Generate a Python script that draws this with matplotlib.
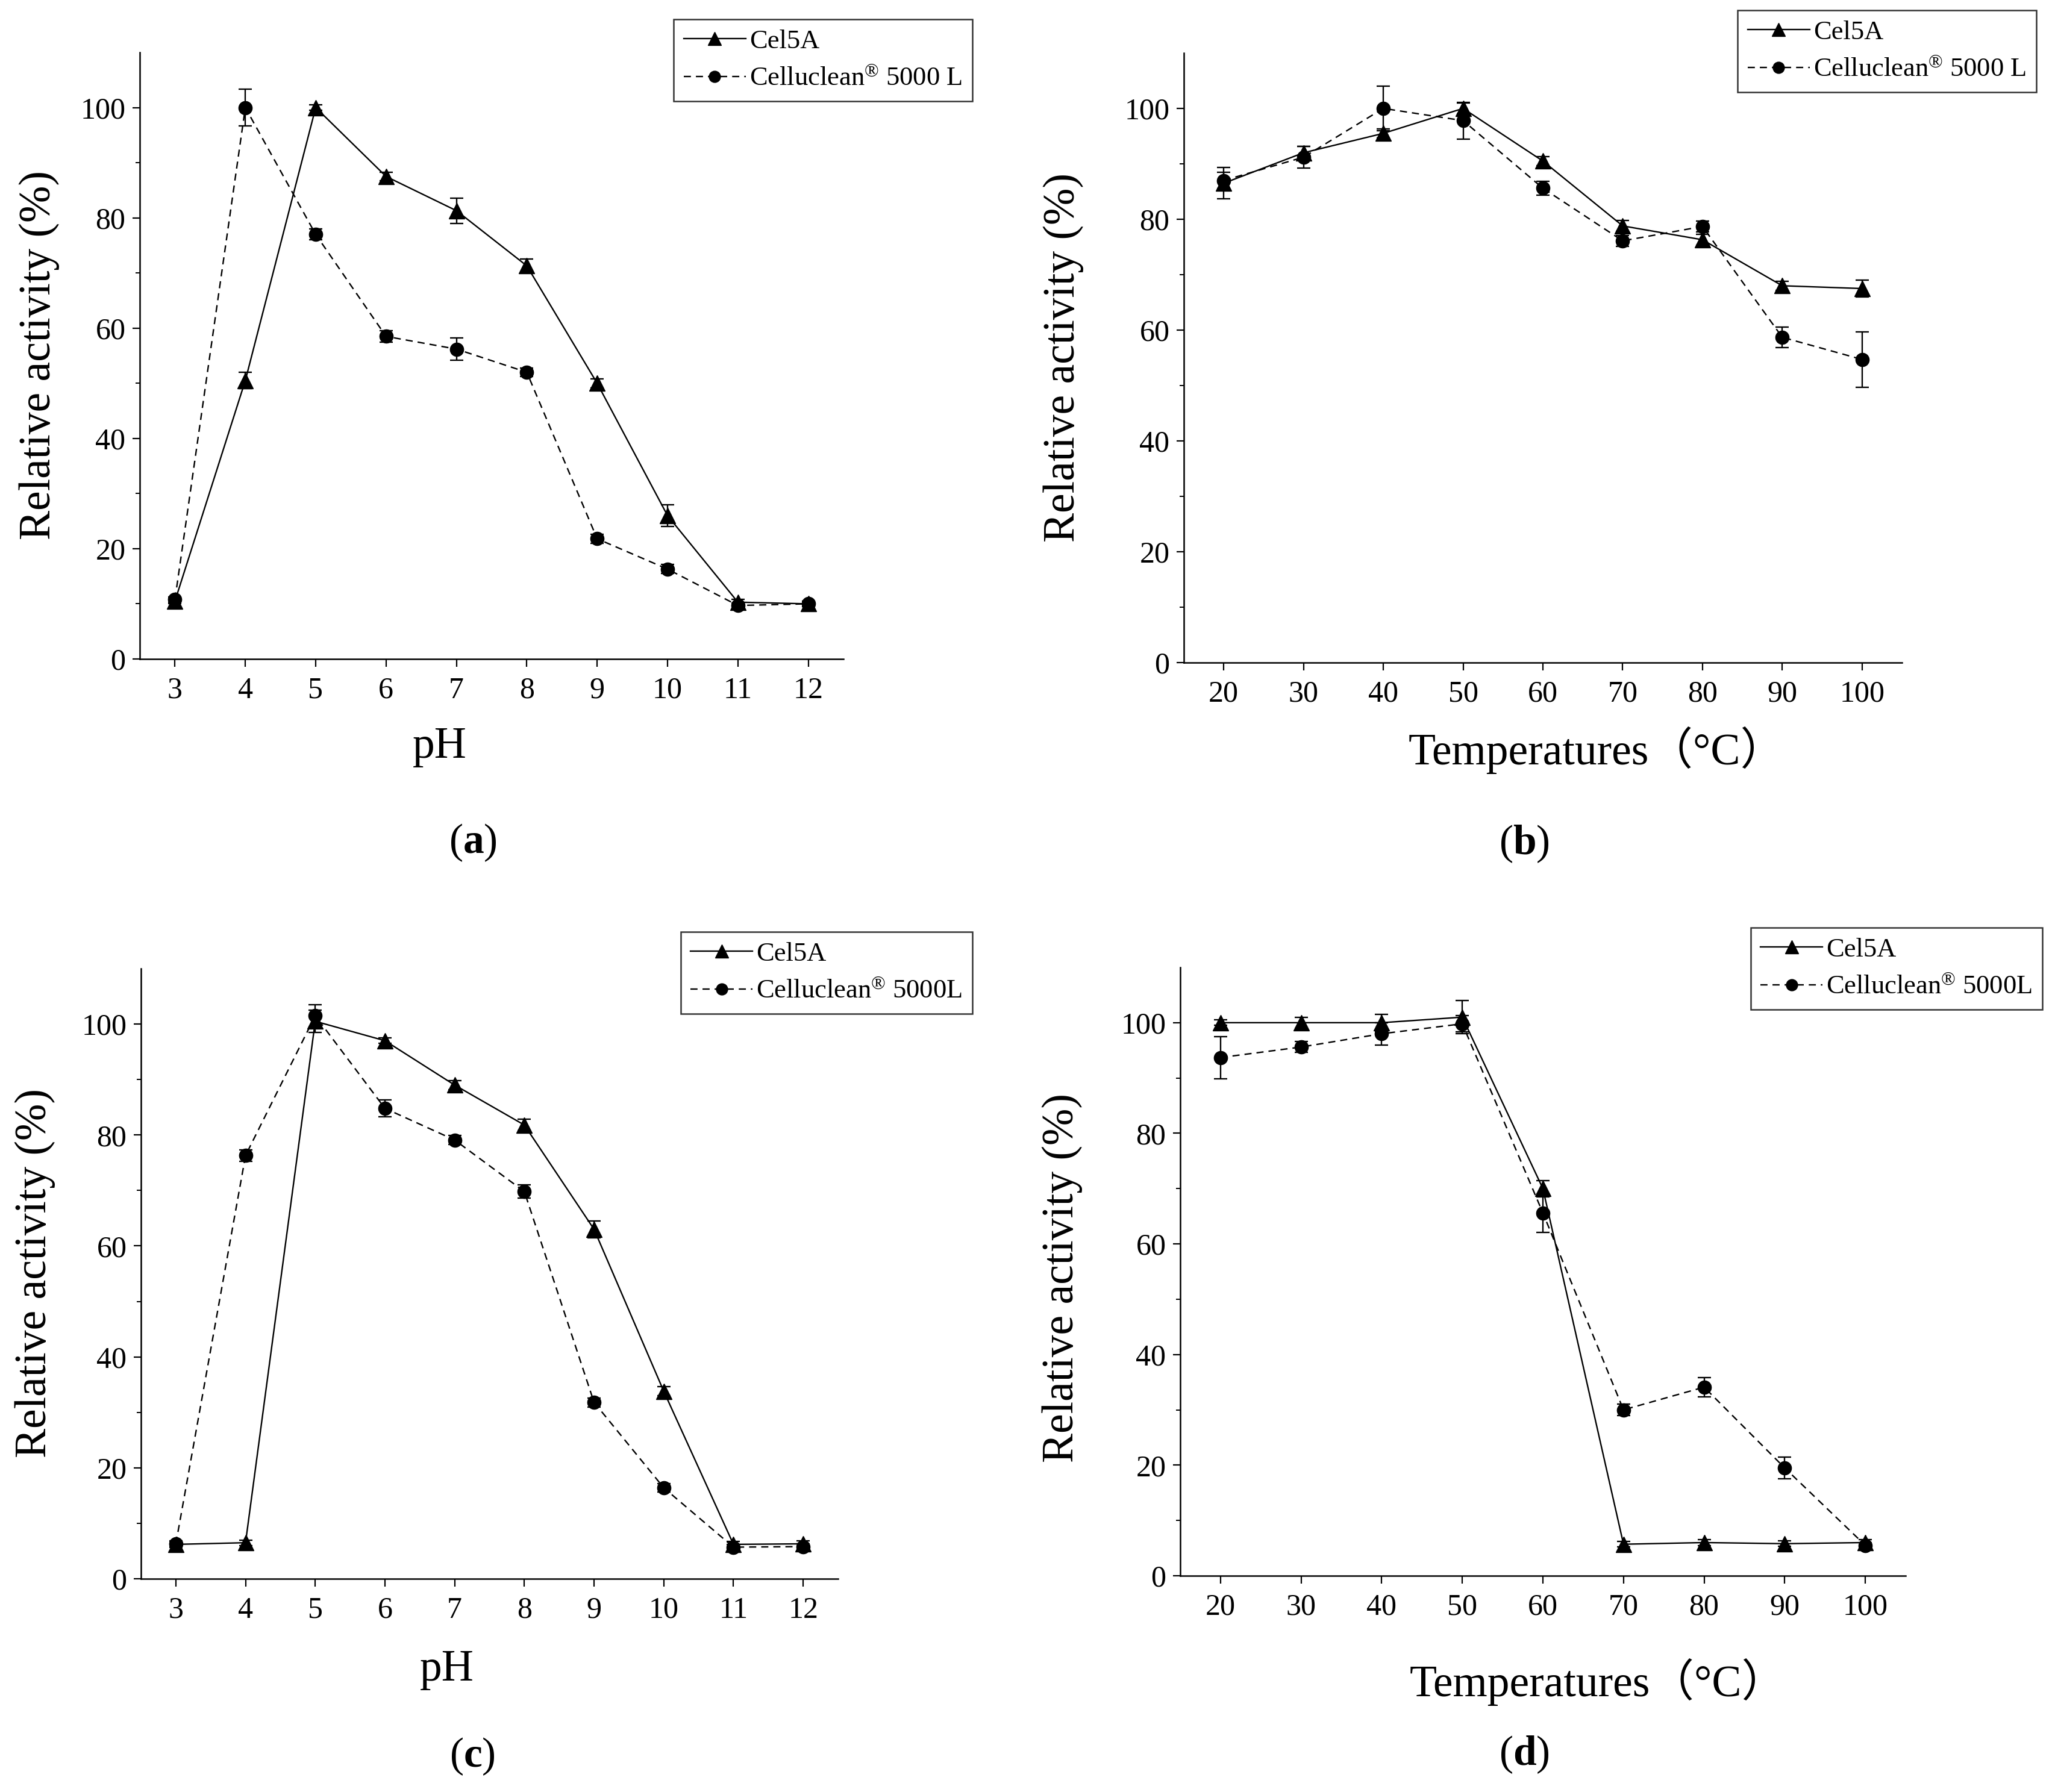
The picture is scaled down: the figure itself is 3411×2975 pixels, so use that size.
import matplotlib
matplotlib.use("Agg")
import matplotlib.pyplot as plt
import numpy as np

plt.rcParams['font.family'] = ['Liberation Serif', 'Noto Sans CJK SC', 'DejaVu Sans']
plt.rcParams['mathtext.fontset'] = 'custom'
plt.rcParams['mathtext.rm'] = 'Liberation Serif'
plt.rcParams['mathtext.it'] = 'Liberation Serif:italic'
plt.rcParams['mathtext.bf'] = 'Liberation Serif:bold'

# ---------------- data ----------------
ph = [3, 4, 5, 6, 7, 8, 9, 10, 11, 12]
temps = [20, 30, 40, 50, 60, 70, 80, 90, 100]

# (a) pH optimum
a_cel5a = [10.5, 50.5, 100.0, 87.5, 81.3, 71.3, 50.0, 26.0, 10.3, 10.0]
a_cel5a_err = [0.5, 1.5, 0.5, 0.8, 2.3, 1.2, 0.8, 2.0, 0.5, 0.5]
a_cellu = [10.8, 100.0, 77.0, 58.5, 56.2, 52.0, 21.8, 16.3, 9.7, 10.0]
a_cellu_err = [0.5, 3.3, 1.0, 1.0, 2.0, 0.8, 0.8, 0.8, 0.5, 0.5]

# (b) temperature optimum
b_cel5a = [86.5, 92.0, 95.5, 100.0, 90.5, 78.8, 76.3, 68.0, 67.5]
b_cel5a_err = [2.8, 1.2, 0.8, 1.0, 0.8, 1.0, 1.0, 0.8, 1.5]
b_cellu = [87.0, 91.2, 100.0, 97.8, 85.6, 76.1, 78.7, 58.7, 54.7]
b_cellu_err = [1.5, 2.0, 4.0, 3.3, 1.2, 1.0, 1.0, 1.8, 5.0]

# (c) pH stability
c_cel5a = [6.2, 6.5, 100.5, 97.0, 89.0, 81.8, 63.0, 33.8, 6.2, 6.3]
c_cel5a_err = [0.5, 0.5, 2.0, 0.5, 0.8, 1.0, 1.5, 0.8, 0.5, 0.5]
c_cellu = [6.3, 76.3, 101.5, 84.8, 79.1, 69.8, 31.8, 16.4, 5.7, 5.8]
c_cellu_err = [0.5, 1.0, 2.0, 1.5, 0.8, 1.2, 0.8, 0.8, 0.5, 0.5]

# (d) temperature stability
d_cel5a = [100.0, 100.0, 100.0, 101.0, 70.0, 5.7, 6.0, 5.8, 6.0]
d_cel5a_err = [0.5, 1.0, 1.5, 3.0, 1.5, 0.5, 0.5, 0.5, 0.5]
d_cellu = [93.7, 95.6, 98.0, 99.8, 65.6, 30.0, 34.1, 19.5, 5.5]
d_cellu_err = [3.8, 1.0, 2.0, 1.5, 3.5, 1.0, 1.7, 2.0, 0.5]

label_cel5a = "Cel5A"
label_cellu_ab = r"Celluclean$^{\circledR}$ 5000 L"
label_cellu_cd = r"Celluclean$^{\circledR}$ 5000L"
ylabel = "Relative activity (%)"
xlabel_ph = "pH"
xlabel_t = "Temperatures（°C）"
panel_letters = ["a", "b", "c", "d"]

# ---------------- figure ----------------
W, H = 3412, 2975
DPI = 100
fig = plt.figure(figsize=(W / DPI, H / DPI), dpi=DPI)


def px_axes(l, r, t, b):
    return [l / W, 1 - b / H, (r - l) / W, (b - t) / H]


panels = [
    dict(rect=px_axes(232, 1400, 87, 1094), x=ph, y1=a_cel5a, e1=a_cel5a_err, y2=a_cellu, e2=a_cellu_err,
         xlim=(2.5, 12.5), xticks=ph, cellu=label_cellu_ab, xlabel=xlabel_ph,
         leg=(1614, 32), ylab=(65, 590), xlab=(730, 1240), plab=(785, 1399)),
    dict(rect=px_axes(1965, 3157, 88, 1100), x=temps, y1=b_cel5a, e1=b_cel5a_err, y2=b_cellu, e2=b_cellu_err,
         xlim=(15, 105), xticks=temps, cellu=label_cellu_ab, xlabel=xlabel_t,
         leg=(3380, 17), ylab=(1765, 594), xlab=(2650, 1245), plab=(2530, 1401)),
    dict(rect=px_axes(234, 1391, 1608, 2621), x=ph, y1=c_cel5a, e1=c_cel5a_err, y2=c_cellu, e2=c_cellu_err,
         xlim=(2.5, 12.5), xticks=ph, cellu=label_cellu_cd, xlabel=xlabel_ph,
         leg=(1614, 1547), ylab=(58, 2114), xlab=(742, 2772), plab=(784, 2916)),
    dict(rect=px_axes(1959, 3163, 1606, 2616), x=temps, y1=d_cel5a, e1=d_cel5a_err, y2=d_cellu, e2=d_cellu_err,
         xlim=(15, 105), xticks=temps, cellu=label_cellu_cd, xlabel=xlabel_t,
         leg=(3390, 1540), ylab=(1763, 2121), xlab=(2652, 2792), plab=(2530, 2913)),
]

for p, letter in zip(panels, panel_letters):
    ax = fig.add_axes(p["rect"])
    x = p["x"]
    # error bars
    ax.errorbar(x, p["y1"], yerr=p["e1"], fmt='none', ecolor='black', elinewidth=1.7,
                capsize=8, capthick=1.7, zorder=2)
    ax.errorbar(x, p["y2"], yerr=p["e2"], fmt='none', ecolor='black', elinewidth=1.7,
                capsize=8, capthick=1.7, zorder=2)
    l1, = ax.plot(x, p["y1"], color='black', linestyle='-', linewidth=1.7,
                  marker='^', markersize=19, markerfacecolor='black', markeredgecolor='black',
                  label=label_cel5a, zorder=3)
    l2, = ax.plot(x, p["y2"], color='black', linestyle=(0, (5, 3.5)), linewidth=1.7,
                  marker='o', markersize=16, markerfacecolor='black', markeredgecolor='black',
                  label=p["cellu"], zorder=3)

    ax.set_xlim(*p["xlim"])
    ax.set_ylim(0, 110)
    ax.set_xticks(p["xticks"])
    ax.set_yticks([0, 20, 40, 60, 80, 100])
    ax.set_yticks([10, 30, 50, 70, 90], minor=True)
    ax.spines['top'].set_visible(False)
    ax.spines['right'].set_visible(False)
    for s in ('left', 'bottom'):
        ax.spines[s].set_linewidth(1.8)
    ax.tick_params(axis='both', which='major', direction='out', length=9, width=1.6,
                   labelsize=36)
    ax.tick_params(axis='x', which='major', pad=12)
    ax.tick_params(axis='y', which='major', pad=8)
    ax.tick_params(axis='y', which='minor', direction='out', length=5, width=1.4)

    leg = ax.legend(handles=[l1, l2], loc='upper right',
                    bbox_to_anchor=(p["leg"][0] / W, 1 - p["leg"][1] / H),
                    bbox_transform=fig.transFigure, borderaxespad=0,
                    fontsize=32, frameon=True, fancybox=False, edgecolor='black',
                    handlelength=2.3, handletextpad=0.15, borderpad=0.38,
                    labelspacing=0.5, markerscale=0.85)
    leg.get_frame().set_linewidth(1.8)

    fig.text(p["ylab"][0] / W, 1 - p["ylab"][1] / H, ylabel, rotation=90,
             ha='center', va='center', fontsize=53)
    fig.text(p["xlab"][0] / W, 1 - p["xlab"][1] / H, p["xlabel"],
             ha='center', va='center', fontsize=53)
    fig.text(p["plab"][0] / W, 1 - p["plab"][1] / H, "($\\mathbf{" + letter + "}$)",
             ha='center', va='center', fontsize=50)

fig.savefig("out.png", dpi=DPI, facecolor='white')
